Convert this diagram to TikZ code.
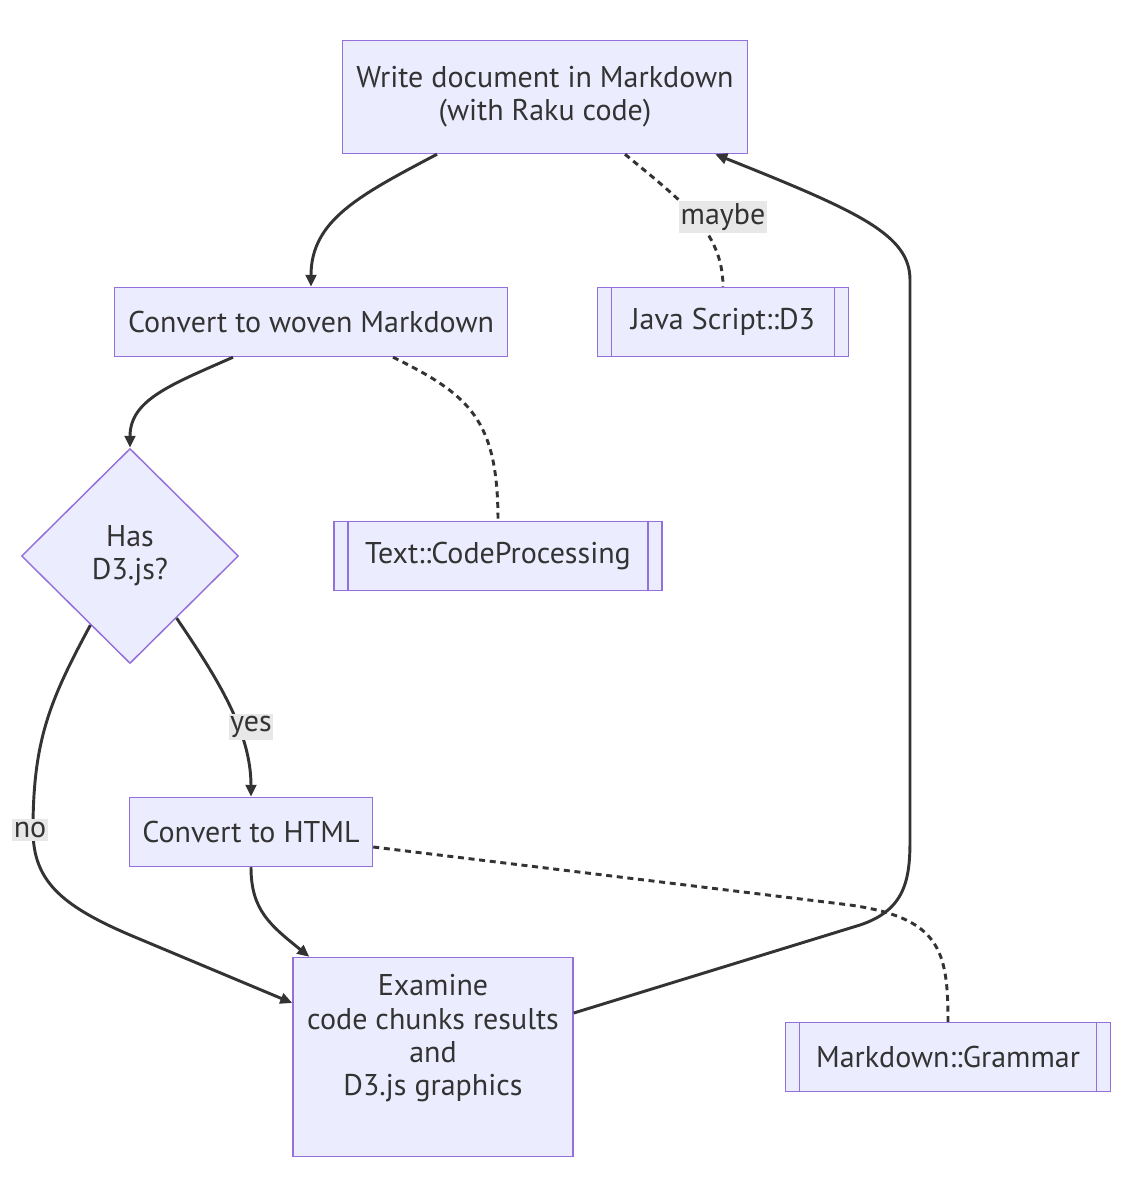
\documentclass[tikz,border=0pt]{standalone}
\usepackage{fontspec}
\setmainfont{PT Sans}
\usetikzlibrary{shapes.geometric,arrows.meta,calc}
\definecolor{nodefill}{HTML}{ECECFF}
\definecolor{nodeline}{HTML}{9370DB}
\definecolor{edgecol}{HTML}{333333}
\definecolor{lblfill}{HTML}{E8E8E8}
\begin{document}
\begin{tikzpicture}[x=0.75pt,y=-0.75pt,
  txt/.style={text=edgecol, font=\fontsize{22.5}{25}\selectfont},
  box/.style={txt, draw=nodeline, fill=nodefill, line width=1.1pt, align=center, inner sep=0pt},
  subr/.style={box, path picture={\draw[nodeline,line width=1.1pt]
      ([xshift=10.5pt]path picture bounding box.north west) -- ([xshift=10.5pt]path picture bounding box.south west)
      ([xshift=-10.5pt]path picture bounding box.north east) -- ([xshift=-10.5pt]path picture bounding box.south east);}},
  dec/.style={box, diamond, minimum width=162.75pt, minimum height=161.25pt},
  flow/.style={draw=edgecol, line width=2.2pt, -{Triangle[length=9pt,width=8pt]}},
  dotline/.style={draw=edgecol, line width=2.2pt, dash pattern=on 4.5pt off 3.5pt},
  lbl/.style={txt, fill=lblfill, inner xsep=1pt, inner ysep=2pt}
]
\useasboundingbox (0,0) rectangle (1126,1199);
\fill[white] (0,0) rectangle (1126,1199);

\node[box, minimum width=303.75pt, minimum height=84.75pt] (A) at (545,97) {Write document in Markdown\\(with Raku code)};
\node[box, minimum width=294.75pt, minimum height=51.75pt] (B) at (311,322) {Convert to woven Markdown};
\node[subr, minimum width=188.25pt, minimum height=51.75pt] (C) at (723,322) {Java Script::D3};
\node[dec] (D) at (130,556) {Has\\D3.js?};
\node[subr, minimum width=246pt, minimum height=51.75pt] (E) at (498,556) {Text::CodeProcessing};
\node[box, minimum width=182.25pt, minimum height=51.75pt] (F) at (251,832) {Convert to HTML};
\node[box, minimum width=210pt, minimum height=149.25pt] (G) at (433,1057) {Examine\\code chunks results\\and\\D3.js graphics\\\strut};
\node[subr, minimum width=243.75pt, minimum height=51.75pt] (H) at (948,1057) {Markdown::Grammar};

% A -> B
\draw[flow] ($(A.south)+(-108,0)$) .. controls (360,195) and (311,220) .. (B.north);
% A .. C
\draw[dotline] ($(A.south)+(80,0)$) .. controls (680,200) and (723,230) .. (C.north)
  node[lbl] (lm) at (723,217) {maybe};
% B -> D
\draw[flow] ($(B.south)+(-78,0)$) .. controls (170,385) and (130,400) .. (D.north);
% B .. E
\draw[dotline] ($(B.south)+(82,0)$) .. controls (470,395) and (498,420) .. (E.north);
% D -> F (yes)
\draw[flow] ($(D.south east)+(-8,8)$) .. controls (215,675) and (251,730) .. (F.north)
  node[lbl] (ly) at (251,727) {yes};
% D -> G (no)
\draw[flow] ($(D.south west)+(15,15)$) .. controls (50,700) and (33,740) .. (33,830)
  .. controls (33,880) and (60,905) .. (130,935) -- ($(G.west)+(0,-54)$)
  node[lbl] (ln) at (30,830) {no};
% F -> G
\draw[flow] (F.south) .. controls (251,910) and (270,925) .. ($(G.north west)+(17,0)$);
% F .. H
\draw[dotline] ($(F.east)+(0,15)$) -- (850,905) .. controls (940,918) and (948,950) .. (H.north);
% G -> A
\draw[flow] ($(G.east)+(0,-44)$) -- (860,925) .. controls (905,910) and (910,880) .. (910,840)
  -- (910,280) .. controls (910,235) and (860,212) .. ($(A.south east)+(-33,0)$);
\end{tikzpicture}
\end{document}
